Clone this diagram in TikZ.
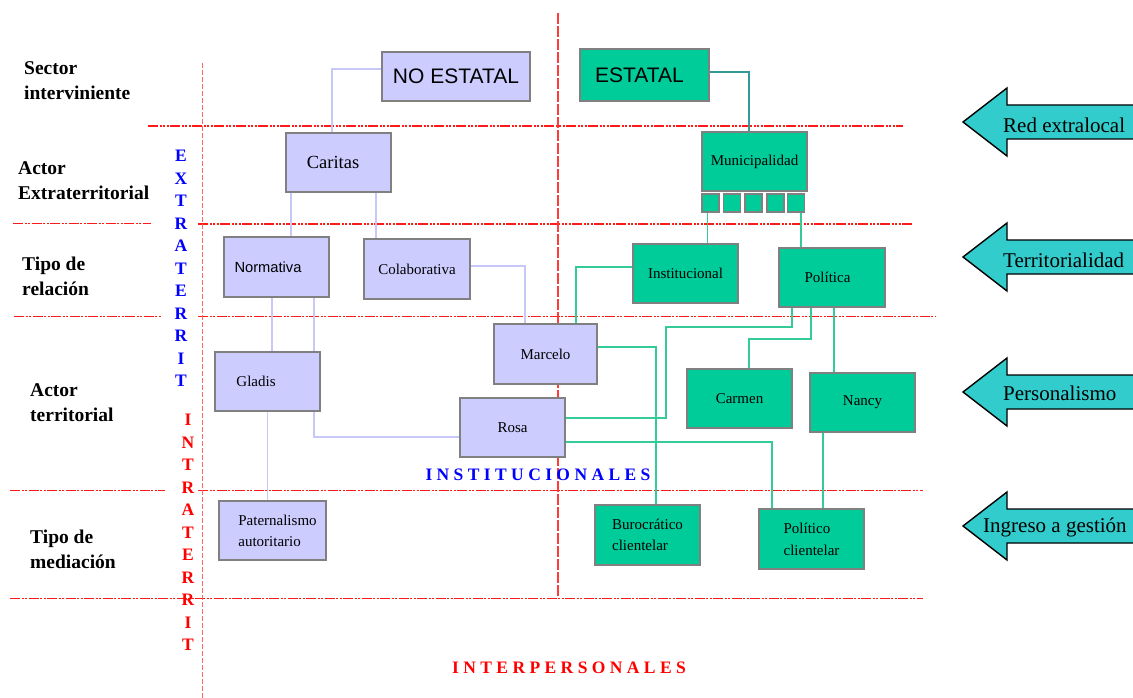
\documentclass[tikz,border=0pt]{standalone}
\usepackage{fontspec}
\setmainfont{Liberation Serif}
\newfontfamily\arialf{Liberation Sans}
\usetikzlibrary{calc}
\definecolor{lav}{HTML}{CCCCFF}
\definecolor{lavln}{HTML}{C8C8F8}
\definecolor{grn}{HTML}{00CC99}
\definecolor{grnln}{HTML}{33CC99}
\definecolor{tealln}{HTML}{339999}
\definecolor{boxgray}{HTML}{808080}
\definecolor{arrfill}{HTML}{33CCCC}
\definecolor{rrule}{HTML}{FF1A1A}
\definecolor{pinkrule}{HTML}{FF6666}
\newcommand{\lsp}{\hspace{4.4pt}}
\tikzset{
  basebox/.style={draw=boxgray, line width=1.6pt, inner sep=0pt, minimum width=105pt, minimum height=59pt, font=\fontsize{15}{18}\selectfont, align=center},
  lavbox/.style={basebox, fill=lav},
  grnbox/.style={basebox, fill=grn},
  sqbox/.style={draw=boxgray, line width=1.4pt, fill=grn, inner sep=0pt, minimum width=17pt, minimum height=18pt},
  lavline/.style={draw=lavln, line width=1.5pt},
  grnline/.style={draw=grnln, line width=1.5pt},
  hrule/.style={draw=rrule, line width=1.3pt, dash pattern=on 10pt off 1.5pt on 2pt off 1.5pt on 2pt off 1.5pt on 2pt off 1.5pt},
  hrulethin/.style={draw=rrule, line width=1pt, dash pattern=on 10pt off 1.5pt on 2pt off 1.5pt on 2pt off 1.5pt},
  sidelabel/.style={font=\fontsize{19.5}{25}\selectfont\bfseries, align=left, anchor=west, inner sep=0pt},
  vletb/.style={font=\fontsize{17.5}{17.5}\selectfont\bfseries, text=blue, inner sep=0pt},
  vletr/.style={font=\fontsize{17.5}{17.5}\selectfont\bfseries, text=red, inner sep=0pt},
  arrshape/.style={draw=black, line width=1.4pt, fill=arrfill, line join=miter},
  arrtext/.style={font=\fontsize{21}{21}\selectfont, inner sep=0pt}
}
\begin{document}
\begin{tikzpicture}[x=1pt,y=-1pt]
\useasboundingbox (0,0) rectangle (1133,698);
\fill[white] (0,0) rectangle (1133,698);

% ---- rules ----
\draw[hrule] (148,126) -- (903,126);
\draw[hrulethin] (13,223) -- (151,223);
\draw[hrule] (198,224) -- (912,224);
\draw[hrulethin] (14,316) -- (162,316);
\draw[hrulethin] (198,316) -- (935,316);
\draw[hrulethin] (10,490) -- (165,490);
\draw[hrulethin] (198,490) -- (923,490);
\draw[hrulethin] (10,598) -- (923,598);
\draw[draw=pinkrule, line width=1pt, dash pattern=on 5pt off 2pt] (202,63) -- (202,698);
\draw[draw=rrule!85, line width=1.8pt, dash pattern=on 11pt off 2pt] (558,13) -- (558,598);

% ---- side labels ----
\node[sidelabel] (l1) at (24,81) {Sector\\interviniente};
\node[sidelabel] (l2) at (18,181) {Actor\\Extraterritorial};
\node[sidelabel] (l3) at (22,276.5) {Tipo de\\relación};
\node[sidelabel] (l4) at (30,403) {Actor\\territorial};
\node[sidelabel] (l5) at (30,549) {Tipo de\\mediación};

\foreach \l [count=\i from 0] in {E,X,T,R,A,T,E,R,R,I,T}
  \node[vletb] (ext\i) at (181,156+22.5*\i) {\l};
\foreach \l [count=\i from 0] in {I,N,T,R,A,T,E,R,R,I,T}
  \node[vletr] (int\i) at (188,420+22.5*\i) {\l};

\node[vletb] (instlab) at (538,475) {I\lsp N\lsp S\lsp T\lsp I\lsp T\lsp U\lsp C\lsp I\lsp O\lsp N\lsp A\lsp L\lsp E\lsp S};
\node[vletr] (interlab) at (569,668) {I\lsp N\lsp T\lsp E\lsp R\lsp P\lsp E\lsp R\lsp S\lsp O\lsp N\lsp A\lsp L\lsp E\lsp S};

% ---- boxes ----
\node[lavbox, minimum width=148pt, minimum height=49pt, font=\arialf\fontsize{21}{21}\selectfont] (noest) at (456,76.5) {NO ESTATAL};
\node[grnbox, minimum width=129pt, minimum height=52pt, font=\arialf\fontsize{21}{21}\selectfont] (est) at (644.5,75) {ESTATAL\hspace*{10pt}};
\node[lavbox, font=\fontsize{18.5}{20}\selectfont] (caritas) at (338.5,162.5) {Caritas\hspace*{11pt}};
\node[grnbox] (muni) at (754.5,161.5) {Municipalidad};
\node[sqbox] (sq1) at (710.5,203) {};
\node[sqbox] (sq2) at (732,203) {};
\node[sqbox] (sq3) at (753.5,203) {};
\node[sqbox] (sq4) at (775.5,203) {};
\node[sqbox] (sq5) at (796,203) {};
\node[lavbox, minimum height=60pt, font=\arialf\fontsize{14.7}{17}\selectfont] (normativa) at (276.5,267) {Normativa\hspace*{17pt}};
\node[lavbox, minimum width=106pt, minimum height=60pt] (colab) at (417,269) {Colaborativa};
\node[grnbox] (instit) at (685.5,273.5) {Institucional};
\node[grnbox, minimum width=106pt] (politica) at (832,277.5) {Política\hspace*{9pt}};
\node[lavbox] (gladis) at (267.5,381.5) {Gladis\hspace*{23pt}};
\node[lavbox, minimum width=103pt, minimum height=60pt] (marcelo) at (545.5,354) {Marcelo};
\node[lavbox] (rosa) at (512.5,427.5) {Rosa};
\node[grnbox] (carmen) at (739.5,398.5) {Carmen};
\node[grnbox] (nancy) at (862.5,402.5) {Nancy};
\node[lavbox, minimum width=107pt, font=\fontsize{15}{21}\selectfont, align=left] (patern) at (272.5,530.5) {\hspace*{10pt}Paternalismo\\\hspace*{10pt}autoritario};
\node[grnbox, minimum height=60pt, font=\fontsize{15}{21}\selectfont, align=left] (buro) at (647.5,535) {Burocrático\\clientelar};
\node[grnbox, minimum height=60pt, font=\fontsize{15}{22}\selectfont, align=left] (polcl) at (811.5,539) {Político\\clientelar};

% ---- lavender connectors ----
\draw[lavline] ([yshift=7.5pt]noest.west) -| ([xshift=-6.5pt]caritas.north);
\draw[lavline] ([xshift=-47.5pt]caritas.south) -- ([xshift=-47.5pt]caritas.south |- normativa.north);
\draw[lavline] ([xshift=37.5pt]caritas.south) -- ([xshift=37.5pt]caritas.south |- colab.north);
\draw[lavline] ([yshift=3pt]colab.east) -| ([xshift=-20.5pt]marcelo.north);
\draw[lavline] ([xshift=-4.5pt]normativa.south) -- ([xshift=-4.5pt]normativa.south |- gladis.north);
\draw[lavline] ([xshift=37.5pt]normativa.south) -- ([xshift=37.5pt]normativa.south |- gladis.north);
\draw[lavline] ([xshift=46.5pt]gladis.south) |- ([yshift=-9.5pt]rosa.west);
\draw[lavline] (gladis.south) -- (gladis.south |- patern.north);

% ---- green connectors ----
\draw[draw=tealln, line width=1.5pt] ([yshift=3pt]est.east) -| ([xshift=-5.5pt]muni.north);
\draw[grnline] ([xshift=-3pt]sq1.south) -- ([xshift=-3pt]sq1.south |- instit.north);
\draw[grnline] ([xshift=5pt]sq5.south) -- ([xshift=5pt]sq5.south |- politica.north);
\draw[grnline] ([yshift=6.5pt]instit.west) -| ([xshift=30.5pt]marcelo.north);
\draw[grnline] ([xshift=-40pt]politica.south) |- (666,327) |- ([yshift=9.5pt]rosa.east);
\draw[grnline] ([xshift=-21pt]politica.south) |- (749,339) -- ([xshift=9.5pt]carmen.north);
\draw[grnline] ([xshift=2pt]politica.south) -- ([xshift=2pt]politica.south |- nancy.north);
\draw[grnline] ([yshift=7pt]marcelo.east) -| ([xshift=8.5pt]buro.north);
\draw[grnline] ([yshift=-14.5pt]rosa.east) -| ([xshift=-39.5pt]polcl.north);
\draw[grnline] ([xshift=-39.5pt]nancy.south) -- ([xshift=-39.5pt]nancy.south |- polcl.north);

% ---- right arrows ----
\foreach \y/\nm in {122/a1,257/a2,392/a3,526/a4}
  \draw[arrshape] (963,\y) -- (1007,\y-34) -- (1007,\y-17) -- (1150,\y-17) -- (1150,\y+17) -- (1007,\y+17) -- (1007,\y+34) -- cycle;
\node[arrtext, anchor=west] (t1) at (1003,125) {Red extralocal};
\node[arrtext, anchor=west] (t2) at (1003,260) {Territorialidad};
\node[arrtext, anchor=west] (t3) at (1003,393) {Personalismo};
\node[arrtext, anchor=west] (t4) at (983,527) {Ingreso a gestión};
\end{tikzpicture}
\end{document}
